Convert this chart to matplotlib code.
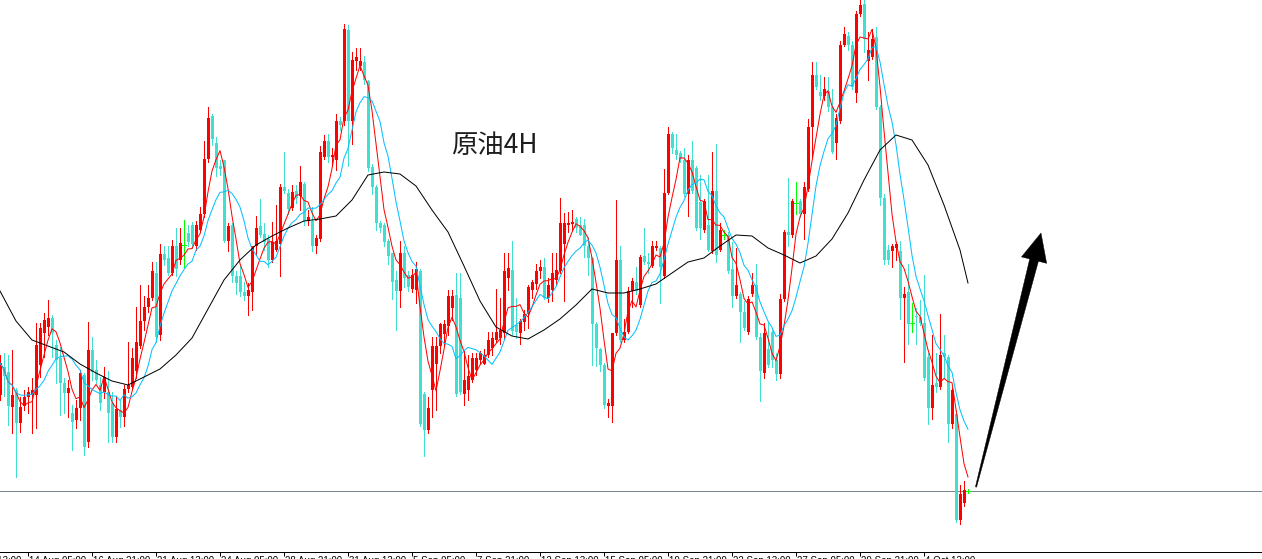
import numpy as np
import pandas as pd
import matplotlib
matplotlib.use("Agg")
import matplotlib.pyplot as plt
from matplotlib.patches import Polygon
from matplotlib.transforms import IdentityTransform, blended_transform_factory, offset_copy

plt.rcParams['font.family'] = ['Noto Sans CJK SC', 'DejaVu Sans']

# 4H candles, oldest first (chart price units)
opens = [165, 193, 188, 153, 170, 137, 154, 163, 165, 165,
         195, 227, 233, 242, 215, 202, 177, 167, 147, 140,
         152, 185, 118, 210, 190, 175, 168, 168, 157, 123,
         150, 143, 171, 173, 189, 214, 239, 253, 262, 287,
         225, 306, 302, 287, 314, 300, 315, 327, 335, 314,
         330, 346, 401, 444, 417, 394, 400, 319, 335, 284,
         284, 268, 264, 268, 314, 334, 326, 321, 300, 310,
         316, 373, 367, 352, 369, 364, 376, 339, 339, 314,
         321, 403, 419, 403, 400, 439, 439, 530, 439, 499,
         494, 498, 479, 393, 373, 337, 335, 319, 307, 280,
         269, 307, 285, 271, 270, 289, 166, 130, 170, 196,
         214, 226, 234, 252, 265, 262, 166, 170, 180, 190,
         200, 196, 205, 212, 220, 222, 227, 282, 290, 235,
         227, 238, 246, 270, 276, 289, 293, 262, 270, 280,
         289, 316, 335, 336, 341, 335, 335, 314, 302, 236,
         211, 195, 154, 154, 227, 300, 220, 228, 269, 278,
         255, 304, 298, 294, 312, 312, 284, 367, 426, 410,
         407, 400, 366, 400, 392, 358, 330, 335, 309, 369,
         310, 325, 325, 291, 264, 266, 248, 228, 266, 275,
         223, 187, 211, 228, 200, 186, 261, 328, 325, 357,
         359, 346, 371, 433, 485, 468, 464, 469, 453, 417,
         439, 515, 524, 515, 467, 546, 556, 499, 503, 523,
         453, 362, 310, 309, 312, 309, 262, 268, 237, 244,
         243, 237, 203, 152, 177, 173, 207, 203, 136, 146,
         40, 57, 69]
highs = [205, 207, 205, 210, 172, 163, 170, 173, 182, 237,
         237, 247, 260, 245, 220, 213, 182, 180, 155, 160,
         190, 187, 238, 223, 200, 183, 193, 189, 168, 164,
         160, 175, 218, 212, 253, 275, 264, 275, 298, 298,
         316, 314, 314, 320, 332, 332, 340, 335, 338, 339,
         353, 419, 453, 446, 423, 400, 400, 337, 337, 289,
         294, 278, 277, 314, 344, 361, 337, 325, 338, 355,
         376, 408, 371, 375, 375, 394, 378, 350, 353, 325,
         414, 425, 426, 412, 446, 443, 536, 535, 508, 512,
         512, 504, 480, 396, 375, 339, 337, 321, 307, 289,
         319, 314, 289, 291, 298, 291, 168, 163, 223, 223,
         237, 240, 270, 270, 287, 287, 209, 205, 207, 207,
         209, 211, 228, 228, 271, 262, 307, 307, 319, 262,
         241, 250, 275, 280, 296, 300, 302, 282, 307, 307,
         362, 347, 348, 350, 343, 343, 341, 323, 303, 238,
         212, 197, 161, 227, 360, 314, 241, 273, 282, 293,
         305, 332, 307, 319, 319, 314, 391, 433, 428, 426,
         409, 412, 405, 419, 394, 385, 361, 385, 408, 416,
         337, 330, 328, 318, 312, 268, 259, 264, 287, 296,
         227, 237, 237, 230, 207, 266, 330, 382, 361, 378,
         361, 378, 441, 498, 498, 485, 483, 483, 471, 446,
         519, 533, 528, 519, 549, 560, 560, 528, 531, 533,
         455, 366, 315, 316, 318, 319, 273, 296, 257, 252,
         260, 285, 207, 225, 207, 246, 225, 205, 172, 150,
         75, 79, 71]
lows = [160, 164, 135, 127, 83, 128, 150, 147, 127, 132,
        183, 203, 225, 203, 177, 145, 147, 143, 110, 132,
        140, 105, 113, 180, 177, 150, 162, 118, 118, 118,
        133, 134, 168, 171, 182, 212, 230, 248, 260, 218,
        220, 295, 285, 285, 284, 296, 293, 314, 312, 310,
        328, 343, 398, 415, 384, 385, 318, 309, 278, 266,
        264, 260, 245, 250, 305, 323, 310, 293, 298, 309,
        284, 367, 346, 350, 357, 350, 335, 335, 309, 307,
        319, 401, 398, 394, 390, 430, 435, 394, 416, 490,
        490, 476, 389, 366, 330, 328, 314, 296, 261, 230,
        253, 273, 269, 268, 257, 134, 104, 127, 143, 150,
        207, 214, 225, 240, 164, 166, 155, 160, 178, 185,
        196, 196, 203, 205, 218, 216, 221, 270, 225, 222,
        216, 230, 232, 262, 271, 282, 261, 258, 259, 275,
        287, 259, 328, 330, 328, 325, 303, 285, 195, 194,
        189, 152, 143, 138, 225, 218, 218, 227, 253, 266,
        253, 296, 287, 293, 310, 257, 282, 366, 407, 401,
        398, 364, 344, 367, 330, 321, 328, 309, 307, 298,
        309, 321, 287, 253, 262, 218, 230, 226, 264, 221,
        159, 182, 193, 193, 180, 182, 259, 314, 323, 346,
        343, 321, 369, 403, 471, 460, 460, 449, 407, 401,
        437, 514, 510, 471, 458, 544, 508, 480, 501, 451,
        355, 296, 296, 293, 300, 241, 198, 216, 228, 216,
        235, 180, 136, 141, 168, 171, 182, 118, 132, 38,
        36, 54, 67]
closes = [197, 184, 154, 165, 137, 153, 163, 168, 170, 215,
          232, 240, 242, 227, 200, 177, 167, 172, 138, 152,
          187, 113, 210, 188, 180, 157, 183, 147, 123, 151,
          143, 171, 175, 202, 218, 239, 253, 262, 289, 223,
          306, 300, 287, 314, 291, 317, 315, 318, 316, 335,
          346, 401, 442, 421, 392, 391, 319, 334, 284, 277,
          268, 264, 270, 314, 332, 325, 318, 300, 318, 319,
          373, 369, 351, 368, 362, 378, 339, 343, 314, 322,
          408, 419, 403, 405, 439, 435, 531, 439, 500, 503,
          499, 480, 392, 373, 337, 332, 318, 304, 278, 269,
          307, 282, 273, 285, 291, 136, 130, 152, 214, 214,
          236, 236, 264, 264, 166, 168, 180, 184, 202, 202,
          207, 205, 220, 222, 228, 230, 289, 292, 229, 228,
          239, 246, 273, 278, 289, 293, 262, 275, 287, 290,
          337, 337, 337, 338, 332, 325, 314, 302, 236, 212,
          195, 155, 157, 227, 300, 220, 228, 269, 279, 269,
          303, 298, 296, 314, 314, 293, 367, 426, 412, 405,
          401, 366, 400, 369, 332, 332, 359, 310, 369, 305,
          330, 325, 289, 264, 275, 248, 232, 261, 275, 223,
          189, 227, 195, 200, 186, 261, 328, 325, 359, 357,
          346, 373, 433, 485, 473, 464, 471, 453, 408, 442,
          515, 526, 515, 473, 546, 555, 521, 510, 521, 453,
          362, 300, 300, 314, 316, 262, 266, 236, 237, 243,
          237, 182, 152, 175, 173, 205, 203, 136, 170, 40,
          66, 70, 69]

# slow moving average as drawn on the chart (every 4th bar, then the last bar)
ma_slow = [269, 239, 220, 214, 208, 196, 187, 179, 175, 183,
           191, 205, 222, 251, 280, 300, 315, 324, 332, 339,
           341, 344, 360, 385, 388, 386, 374, 350, 328, 294,
           259, 233, 224, 221, 230, 241, 255, 271, 267, 267,
           271, 276, 287, 298, 302, 314, 325, 324, 312, 305,
           297, 304, 321, 347, 380, 410, 425, 420, 395, 355,
           310, 277]
ma_slow_bars = list(range(0, 241, 4)) + [242]

support_level = 69

tick_bars = [-9, 7, 23, 39, 55, 71, 87, 103, 119, 135, 151, 167, 183, 199, 215, 231]
tick_labels = ["11 Aug 13:00", "14 Aug 05:00", "16 Aug 21:00", "21 Aug 13:00",
               "24 Aug 05:00", "28 Aug 21:00", "31 Aug 13:00", "5 Sep 05:00",
               "7 Sep 21:00", "12 Sep 13:00", "15 Sep 05:00", "19 Sep 21:00",
               "22 Sep 13:00", "27 Sep 05:00", "29 Sep 21:00", "4 Oct 13:00"]

title = "原油4H"
arrow_tail = (244, 73)
arrow_tip = (260.25, 327)

UP = '#ff0000'
DOWN = '#40e0d0'
DOJI = '#00ff00'
PX = 0.72  # one pixel in points

o = np.array(opens, float)
h = np.array(highs, float)
l = np.array(lows, float)
c = np.array(closes, float)
bars = np.arange(len(c))

colors = np.where(c > o, UP, np.where(c < o, DOWN, DOJI))

fig = plt.figure(figsize=(12.62, 5.59), dpi=100)
ax = fig.add_axes([0, 7.5 / 559, 1, 551.5 / 559])

# wicks and bodies
ax.vlines(bars, l, h, colors=colors, linewidth=PX, antialiased=False, zorder=2)
body = c != o
ax.bar(bars[body], np.abs(c - o)[body], bottom=np.minimum(o, c)[body], width=0.75,
       color=colors[body], linewidth=0, antialiased=False, zorder=2)
doji = ~body
ax.hlines(o[doji], bars[doji] - 0.4, bars[doji] + 0.4, colors=DOJI,
          linewidth=PX, antialiased=False, zorder=2)

# moving averages
s = pd.Series(c)
ax.plot(bars, s.rolling(5, min_periods=1).mean(), color='#ff0000', lw=PX, zorder=3)
ax.plot(bars, s.rolling(10, min_periods=1).mean(), color='#00bfff', lw=PX, zorder=3)
ax.plot(ma_slow_bars, ma_slow, color='black', lw=PX, zorder=3)

ax.axhline(support_level, color='#7a8591', lw=PX, zorder=1)

ax.text(123.5, 414.5, title, fontsize=19, color='#1e1e1e', ha='center', va='center')

# axis styling
for side in ['top', 'left', 'right']:
    ax.spines[side].set_visible(False)
ax.spines['bottom'].set_color('black')
ax.spines['bottom'].set_linewidth(PX)
ax.set_yticks([])
ax.set_xticks(tick_bars)
ax.set_xticklabels([])
ax.tick_params(axis='x', length=3, width=PX, direction='out', color='black')
ax.set_xlim(0, 315.5)
ax.set_ylim(8.5, 560)

trans = offset_copy(blended_transform_factory(ax.transData, ax.transAxes),
                    fig=fig, x=1, y=-5, units='dots')
for b, lab in zip(tick_bars, tick_labels):
    ax.text(b, 0, lab, transform=trans, ha='left', va='top', fontsize=7,
            family=['Liberation Sans'], color='black', clip_on=False)

# hand-drawn style up arrow (built in pixel space so its shape is not stretched)
p0, p1 = ax.transData.transform([arrow_tail, arrow_tip])
d = p1 - p0
u = d / np.hypot(*d)
nrm = np.array([-u[1], u[0]])
base = p1 - u * 28
pts = [p0 + nrm * 0.6, base + nrm * 4.5, base + nrm * 13, p1,
       base - nrm * 13, base - nrm * 4.5, p0 - nrm * 0.6]
ax.add_patch(Polygon(pts, closed=True, facecolor='black', edgecolor='black',
                     lw=0.3, transform=IdentityTransform(), zorder=4))

fig.savefig('out.png', dpi=100)
